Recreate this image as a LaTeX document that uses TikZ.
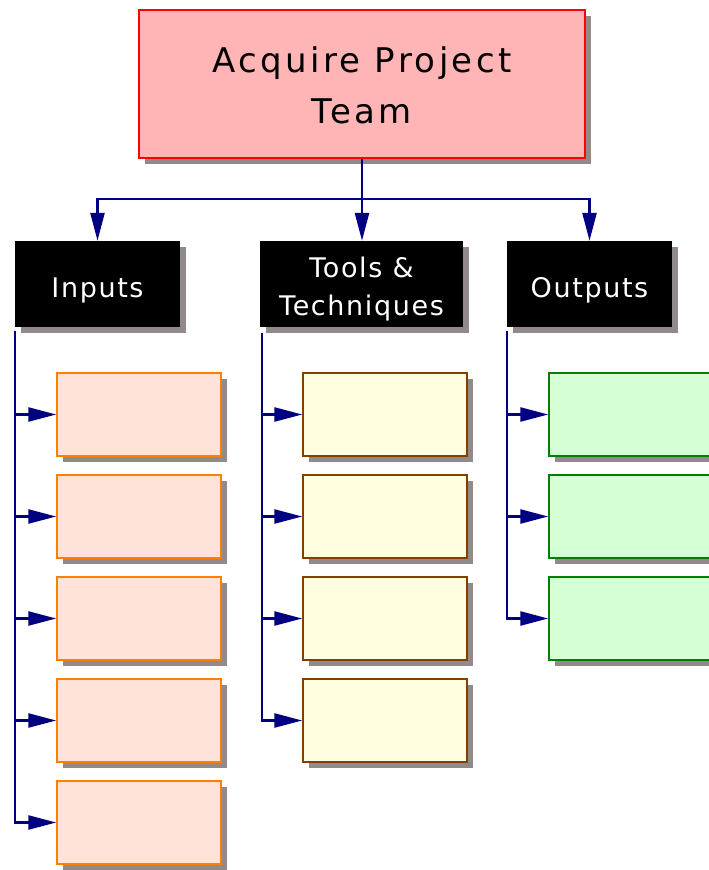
\documentclass[tikz,border=0pt]{standalone}
\usepackage{fontspec}
\setmainfont{DejaVu Sans}[LetterSpace=6]
\usetikzlibrary{arrows.meta,shadows}
\definecolor{shade}{RGB}{146,138,138}
\definecolor{navy}{RGB}{0,0,128}
\definecolor{teamfill}{RGB}{255,181,181}
\definecolor{infill}{RGB}{255,227,216}
\definecolor{inedge}{RGB}{255,128,0}
\definecolor{tfill}{RGB}{255,255,224}
\definecolor{tedge}{RGB}{128,64,0}
\definecolor{outfill}{RGB}{213,255,213}
\definecolor{outedge}{RGB}{0,128,0}

\begin{document}
\begin{tikzpicture}[x=1pt,y=-1pt]
      \useasboundingbox(0,0) rectangle (709,870);
      \tikzset{B/.style = {shape=rectangle, inner sep=0pt, drop shadow={shadow xshift=6pt, shadow yshift=-6pt, fill=shade, opacity=1}}}
      \tikzset{T/.style = {B, draw=red, fill=teamfill, line width=1.8pt, minimum width=446pt, text height=113pt, text depth=35pt, align=center, font=\fontsize{34}{51}\selectfont\addfontfeature{LetterSpace=10}}}
      \tikzset{H/.style = {B, fill=black, text=white, minimum width=165pt, text height=56pt, text depth=30pt, align=center, font=\fontsize{27}{38}\selectfont}}
      \tikzset{I/.style = {B, draw=inedge, fill=infill, line width=1.5pt, minimum width=164pt, minimum height=83pt}}
      \tikzset{K/.style = {B, draw=tedge, fill=tfill, line width=1.5pt, minimum width=164pt, minimum height=83pt}}
      \tikzset{O/.style = {B, draw=outedge, fill=outfill, line width=1.5pt, minimum width=164pt, minimum height=83pt}}
      \tikzset{E/.style = {draw=navy, line width=2.5pt, -{Triangle[length=28pt,width=14pt]}}}
      \node[T](team) at (362,84) {Acquire Project\\Team};
      \node[H](inp) at (97.5,284) {Inputs};
      \node[H,minimum width=203pt,text height=74pt,text depth=12pt](tools) at (361.5,284) {Tools \&\\Techniques};
      \node[H](outp) at (589.5,284) {Outputs};
      \coordinate (hub) at (362,199);
      \coordinate (ispine) at (15,331);
      \coordinate (tspine) at (262,333);
      \coordinate (ospine) at (507,331);
      \node[I](i1) at (139,414.5) {};
      \node[I](i2) at (139,516.5) {};
      \node[I](i3) at (139,618.5) {};
      \node[I](i4) at (139,720.5) {};
      \node[I](i5) at (139,822.5) {};
      \node[K](t1) at (385,414.5) {};
      \node[K](t2) at (385,516.5) {};
      \node[K](t3) at (385,618.5) {};
      \node[K](t4) at (385,720.5) {};
      \node[O](o1) at (631,414.5) {};
      \node[O](o2) at (631,516.5) {};
      \node[O](o3) at (631,618.5) {};
      \draw[draw=navy,line width=2.5pt](team.south) -- (hub);
      \draw[E](hub) -| (inp.north);
      \draw[E](hub) -- (hub |- tools.north);
      \draw[E](hub) -| (outp.north);
      \draw[E](ispine) |- (i5.west);
      \draw[E](ispine |- i1.west) -- (i1.west);
      \draw[E](ispine |- i2.west) -- (i2.west);
      \draw[E](ispine |- i3.west) -- (i3.west);
      \draw[E](ispine |- i4.west) -- (i4.west);
      \draw[E](tspine) |- (t4.west);
      \draw[E](tspine |- t1.west) -- (t1.west);
      \draw[E](tspine |- t2.west) -- (t2.west);
      \draw[E](tspine |- t3.west) -- (t3.west);
      \draw[E](ospine) |- (o3.west);
      \draw[E](ospine |- o1.west) -- (o1.west);
      \draw[E](ospine |- o2.west) -- (o2.west);
      \end{tikzpicture}
\end{document}
